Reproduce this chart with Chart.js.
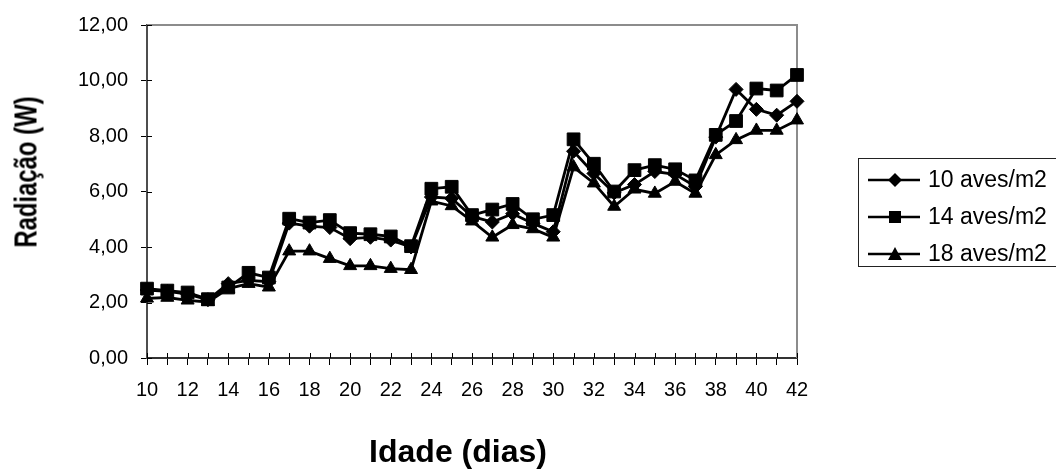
<!DOCTYPE html>
<html>
<head>
<meta charset="utf-8">
<title>Radiação x Idade</title>
<script src="https://cdn.jsdelivr.net/npm/chart.js@4"></script>
<style>
    body { margin: 0; background: #fff; }
    #wrap { position: relative; width: 1056px; height: 471px; font-family: "Liberation Sans", Arial, sans-serif; color: #000; }
    #grafico { position: absolute; left: 0; top: 0; }
    .titulo { position: absolute; font-weight: bold; white-space: nowrap; line-height: 1; }
    #tituloX { left: 458px; top: 435px; font-size: 32px; transform: translateX(-50%); }
    #tituloY { left: 26px; top: 172px; width: 0; height: 0; }
    #tituloY span { position: absolute; font-size: 31px; transform: translate(-50%, -50%) rotate(-90deg) scaleX(0.77); }
    #legenda { position: absolute; left: 858px; top: 158px; width: 210px; height: 109px; border: 1px solid #222; box-sizing: border-box; }
    .item { position: absolute; left: 9px; height: 24px; font-size: 23px; line-height: 24px; white-space: nowrap; }
    .item svg { position: absolute; left: 0; top: 2px; }
    .item span { position: absolute; left: 60px; top: 0; }
</style>
</head>
<body>
<div id="wrap">
    <canvas id="grafico" width="1056" height="471"></canvas>
    <div class="titulo" id="tituloY"><span>Radiação (W)</span></div>
    <div class="titulo" id="tituloX">Idade (dias)</div>
    <div id="legenda"></div>
</div>
<script>
// Idade das aves (dias)
const dias = ['10', '11', '12', '13', '14', '15', '16', '17', '18', '19', '20',
              '21', '22', '23', '24', '25', '26', '27', '28', '29', '30', '31',
              '32', '33', '34', '35', '36', '37', '38', '39', '40', '41', '42'];

// Radiação (W) por densidade
const aves10 = [2.45, 2.40, 2.30, 2.10, 2.68, 2.80, 2.75, 4.86, 4.75, 4.70, 4.30,
                4.35, 4.25, 4.00, 5.80, 5.75, 5.10, 4.90, 5.20, 4.85, 4.55, 7.45,
                6.65, 5.95, 6.25, 6.72, 6.62, 6.18, 7.96, 9.68, 8.96, 8.75, 9.25];
const aves14 = [2.50, 2.43, 2.36, 2.12, 2.54, 3.07, 2.90, 5.02, 4.88, 4.97, 4.50,
                4.46, 4.38, 4.03, 6.10, 6.17, 5.15, 5.35, 5.55, 5.00, 5.15, 7.88,
                7.00, 6.00, 6.77, 6.95, 6.80, 6.40, 8.04, 8.54, 9.71, 9.64, 10.20];
const aves18 = [2.15, 2.18, 2.08, 2.02, 2.50, 2.68, 2.55, 3.85, 3.85, 3.58, 3.32,
                3.32, 3.22, 3.18, 5.65, 5.48, 4.93, 4.35, 4.80, 4.65, 4.35, 6.88,
                6.30, 5.46, 6.08, 5.93, 6.36, 5.93, 7.32, 7.86, 8.20, 8.20, 8.57];

const nomes = ['10 aves/m2', '14 aves/m2', '18 aves/m2'];
const marcadores = ['rectRot', 'rect', 'triangle'];
const ticksY = [0, 2, 4, 6, 8, 10, 12];

const fonte = '"Liberation Sans", Arial, sans-serif';
Chart.defaults.font.family = fonte;
Chart.defaults.color = '#000';

// moldura cinza (topo e direita) e a parte interna dos ticks
const moldura = {
    id: 'moldura',
    beforeDatasetsDraw(chart) {
        const ctx = chart.ctx;
        const a = chart.chartArea;
        const sx = chart.scales.x;
        const sy = chart.scales.y;
        ctx.save();
        ctx.strokeStyle = '#8c8c8c';
        ctx.lineWidth = 2;
        ctx.beginPath();
        ctx.moveTo(a.left, a.top);
        ctx.lineTo(a.right, a.top);
        ctx.lineTo(a.right, a.bottom);
        ctx.stroke();

        ctx.strokeStyle = '#000';
        ctx.lineWidth = 1;
        ctx.beginPath();
        sx.ticks.forEach(function (t, i) {
            const x = Math.round(sx.getPixelForTick(i)) + 0.5;
            ctx.moveTo(x, a.bottom);
            ctx.lineTo(x, a.bottom - 5);
        });
        sy.ticks.forEach(function (t, i) {
            const y = Math.round(sy.getPixelForTick(i)) + 0.5;
            ctx.moveTo(a.left, y);
            ctx.lineTo(a.left + 5, y);
        });
        ctx.stroke();
        ctx.restore();
    }
};

function serie(nome, valores, marcador, raio) {
    return {
        label: nome,
        data: valores,
        borderColor: '#000',
        backgroundColor: '#000',
        borderWidth: 2.8,
        pointStyle: marcador,
        pointRadius: raio,
        pointBorderWidth: 1,
        pointBackgroundColor: '#000',
        pointBorderColor: '#000',
        tension: 0,
        clip: false
    };
}

const ctx = document.getElementById('grafico').getContext('2d');
const grafico = new Chart(ctx, {
    type: 'line',
    data: {
        labels: dias,
        datasets: [
            serie(nomes[0], aves10, marcadores[0], 7),
            serie(nomes[1], aves14, marcadores[1], 9),
            serie(nomes[2], aves18, marcadores[2], 7.5)
        ]
    },
    options: {
        responsive: false,
        animation: false,
        devicePixelRatio: 1,
        layout: { padding: { left: 0, top: 22, right: 259, bottom: 0 } },
        plugins: {
            legend: { display: false },
            tooltip: { enabled: false }
        },
        scales: {
            x: {
                type: 'category',
                offset: false,
                grid: { drawOnChartArea: false, drawTicks: true, tickLength: 7, color: '#000', lineWidth: 1 },
                border: { color: '#333', width: 2 },
                ticks: {
                    autoSkip: false,
                    maxRotation: 0,
                    padding: 13,
                    font: { size: 20 },
                    callback: function (v, i) { return i % 2 === 0 ? dias[i] : ''; }
                },
                afterFit: function (s) { s.height = 113; }
            },
            y: {
                min: ticksY[0],
                max: ticksY[ticksY.length - 1],
                grid: { drawOnChartArea: false, tickLength: 6, color: '#000', lineWidth: 1 },
                border: { color: '#4d4d4d', width: 2 },
                ticks: {
                    stepSize: 2,
                    padding: 13,
                    font: { size: 20 },
                    callback: function (v) { return v.toFixed(2).replace('.', ','); }
                },
                afterBuildTicks: function (s) { s.ticks = ticksY.map(function (v) { return { value: v }; }); },
                afterFit: function (s) { s.width = 147; }
            }
        }
    },
    plugins: [moldura]
});

// legenda feita em HTML, com o marcador de cada série
const simbolos = [
    '<polygon points="27,4 34,11 27,18 20,11" fill="#000"/>',
    '<rect x="21" y="5" width="12" height="12" fill="#000"/>',
    '<polygon points="27,4 34,17 20,17" fill="#000"/>'
];
const legenda = document.getElementById('legenda');
const posicoes = [8, 45, 82];
nomes.forEach(function (nome, i) {
    const item = document.createElement('div');
    item.className = 'item';
    item.style.top = posicoes[i] + 'px';
    item.innerHTML = '<svg width="54" height="22"><line x1="0" y1="11" x2="52" y2="11" stroke="#000" stroke-width="2.5"/>' +
        simbolos[i] + '</svg><span>' + nome + '</span>';
    legenda.appendChild(item);
});
</script>
</body>
</html>
